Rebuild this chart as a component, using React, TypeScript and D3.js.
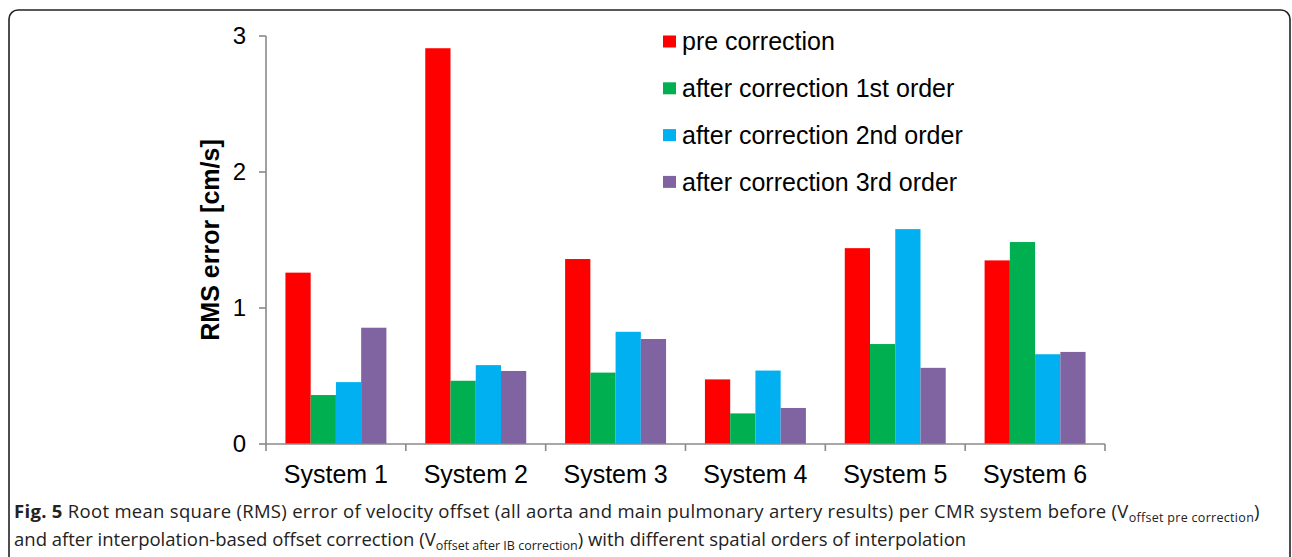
import React from 'react';
import * as d3 from 'd3';

const systems = ['System 1', 'System 2', 'System 3', 'System 4', 'System 5', 'System 6'];
const seriesNames = [
  'pre correction',
  'after correction 1st order',
  'after correction 2nd order',
  'after correction 3rd order',
];
const seriesColors = ['#ff0000', '#00b050', '#00b0f0', '#8064a2'];
const preCorrection = [1.26, 2.91, 1.36, 0.475, 1.44, 1.35];
const firstOrder = [0.36, 0.465, 0.525, 0.225, 0.735, 1.485];
const secondOrder = [0.455, 0.58, 0.825, 0.54, 1.58, 0.66];
const thirdOrder = [0.855, 0.537, 0.772, 0.265, 0.56, 0.677];
const yTicks = [0, 1, 2, 3];

const allSeries = [preCorrection, firstOrder, secondOrder, thirdOrder];

const W = 1292;
const H = 557;
const left = 266;
const right = 1105;
const top = 36;
const bottom = 444;

const sans = 'Liberation Sans, Arial, Helvetica, sans-serif';
const axisGray = '#8a8a8a';

export default function App() {
  const x = d3.scaleBand<string>().domain(systems).range([left, right]).padding(0);
  const y = d3.scaleLinear().domain([0, 3]).range([bottom, top]);
  const inner = d3
    .scaleBand<number>()
    .domain(d3.range(seriesNames.length))
    .range([0, x.bandwidth()])
    .paddingOuter(0.77)
    .paddingInner(0);

  const boundaries = systems.map((s) => x(s) as number).concat([right]);

  return (
    <svg
      width={W}
      height={H}
      style={{ position: 'absolute', left: 0, top: 0, background: '#fff' }}
    >
      <rect x={9} y={10} width={1281} height={620} rx={9} fill="none" stroke="#222" strokeWidth={1.6} />

      {/* bars */}
      {systems.map((s, i) => (
        <g key={s} transform={`translate(${x(s)},0)`}>
          {allSeries.map((vals, k) => (
            <rect
              key={k}
              x={inner(k)}
              y={y(vals[i])}
              width={inner.bandwidth()}
              height={y(0) - y(vals[i])}
              fill={seriesColors[k]}
            />
          ))}
        </g>
      ))}

      {/* y axis */}
      <line x1={left} x2={left} y1={y(3)} y2={y(0)} stroke={axisGray} strokeWidth={1.6} />
      {yTicks.map((t) => (
        <g key={t}>
          <line x1={left - 7} x2={left} y1={y(t)} y2={y(t)} stroke={axisGray} strokeWidth={1.6} />
          <text
            x={left - 20}
            y={y(t)}
            dy="0.35em"
            textAnchor="end"
            fontFamily={sans}
            fontSize={24}
            fill="#000"
          >
            {t}
          </text>
        </g>
      ))}
      <text
        transform={`translate(219,${(top + bottom) / 2}) rotate(-90)`}
        textAnchor="middle"
        fontFamily={sans}
        fontWeight="bold"
        fontSize={25}
      >
        RMS error [cm/s]
      </text>

      {/* x axis */}
      <line x1={left} x2={right} y1={bottom} y2={bottom} stroke={axisGray} strokeWidth={1.6} />
      {boundaries.map((b, i) => (
        <line key={i} x1={b} x2={b} y1={bottom} y2={bottom + 7} stroke={axisGray} strokeWidth={1.6} />
      ))}
      {systems.map((s) => (
        <text
          key={s}
          x={(x(s) as number) + x.bandwidth() / 2}
          y={483}
          textAnchor="middle"
          fontFamily={sans}
          fontSize={25}
        >
          {s}
        </text>
      ))}

      {/* legend */}
      {seriesNames.map((n, k) => (
        <g key={n} transform={`translate(663,${41.5 + k * 46.8})`}>
          <rect x={0} y={-6} width={13} height={12} fill={seriesColors[k]} />
          <text x={19} y={0} dy="0.35em" fontFamily={sans} fontSize={25}>
            {n}
          </text>
        </g>
      ))}

      {/* caption */}
      <text x={14} y={518} fontFamily="Open Sans, sans-serif" fontSize={18.5} fill="#222" letterSpacing={0.3}>
        <tspan fontWeight="bold">Fig. 5</tspan>
        <tspan> Root mean square (RMS) error of velocity offset (all aorta and main pulmonary artery results) per CMR system before (V</tspan>
        <tspan fontSize={12.5} dy={4}>offset pre correction</tspan>
        <tspan dy={-4}>)</tspan>
      </text>
      <text x={14} y={546} fontFamily="Open Sans, sans-serif" fontSize={18.5} fill="#222">
        <tspan>and after interpolation-based offset correction (V</tspan>
        <tspan fontSize={12.5} dy={4}>offset after IB correction</tspan>
        <tspan dy={-4}>) with different spatial orders of interpolation</tspan>
      </text>
    </svg>
  );
}
